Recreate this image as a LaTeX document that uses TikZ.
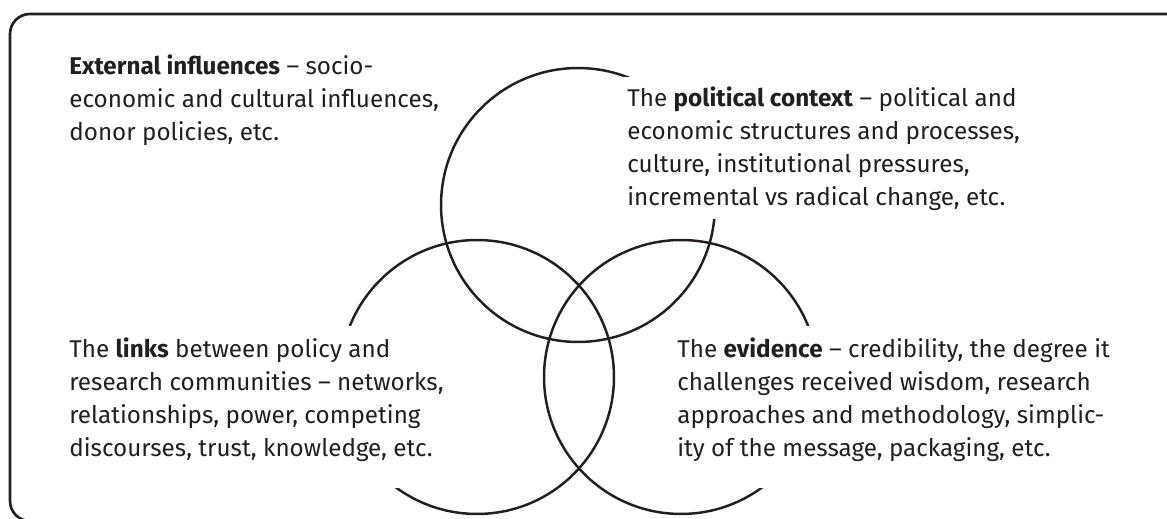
\documentclass[tikz,border=0pt]{standalone}
\usepackage{fontspec}
\setmainfont{Fira Sans}
\usepackage{xcolor}
\definecolor{ink}{HTML}{231F20}
\newcommand{\deepline}{\rule[-12pt]{0pt}{0pt}}

\begin{document}
\begin{tikzpicture}[x=0.02cm, y=-0.02cm,
    ring/.style={circle, draw=ink, line width=1.4pt, minimum size=5.48cm, inner sep=0pt},
    blurb/.style={align=left, anchor=north west, inner sep=0.18cm, text=ink,
        font=\fontsize{13.8pt}{18.8pt}\selectfont},
    cover/.style={blurb, fill=white, inner ysep=0.22cm}]
    \useasboundingbox (0,0) rectangle (1167,519);
    \draw [ink, line width=1.5pt, rounded corners=0.4cm] (10,14) rectangle (1195,521);

    \node [ring] (politics) at (578,205) {};
    \node [ring] (network) at (477,377) {};
    \node [ring] (proof) at (681,377) {};

    \node [blurb] (external) at (60,45) {\textbf{External influences} -- socio-\\economic and cultural influences,\\donor policies, etc.};
    \node [blurb, fill=white] (political) at (618,77) {The \textbf{political context} -- political and\\economic structures and processes,\\culture, institutional pressures,\\incremental vs radical change, etc.};
    \node [cover] (links) at (60,326) {The \textbf{links} between policy and\\research communities -- networks,\\relationships, power, competing\\discourses, trust, knowledge, etc.\deepline};
    \node [cover] (evidence) at (668,326) {The \textbf{evidence} -- credibility, the degree it\\challenges received wisdom, research\\approaches and methodology, simplic-\\ity of the message, packaging, etc.\deepline};
\end{tikzpicture}
\end{document}
